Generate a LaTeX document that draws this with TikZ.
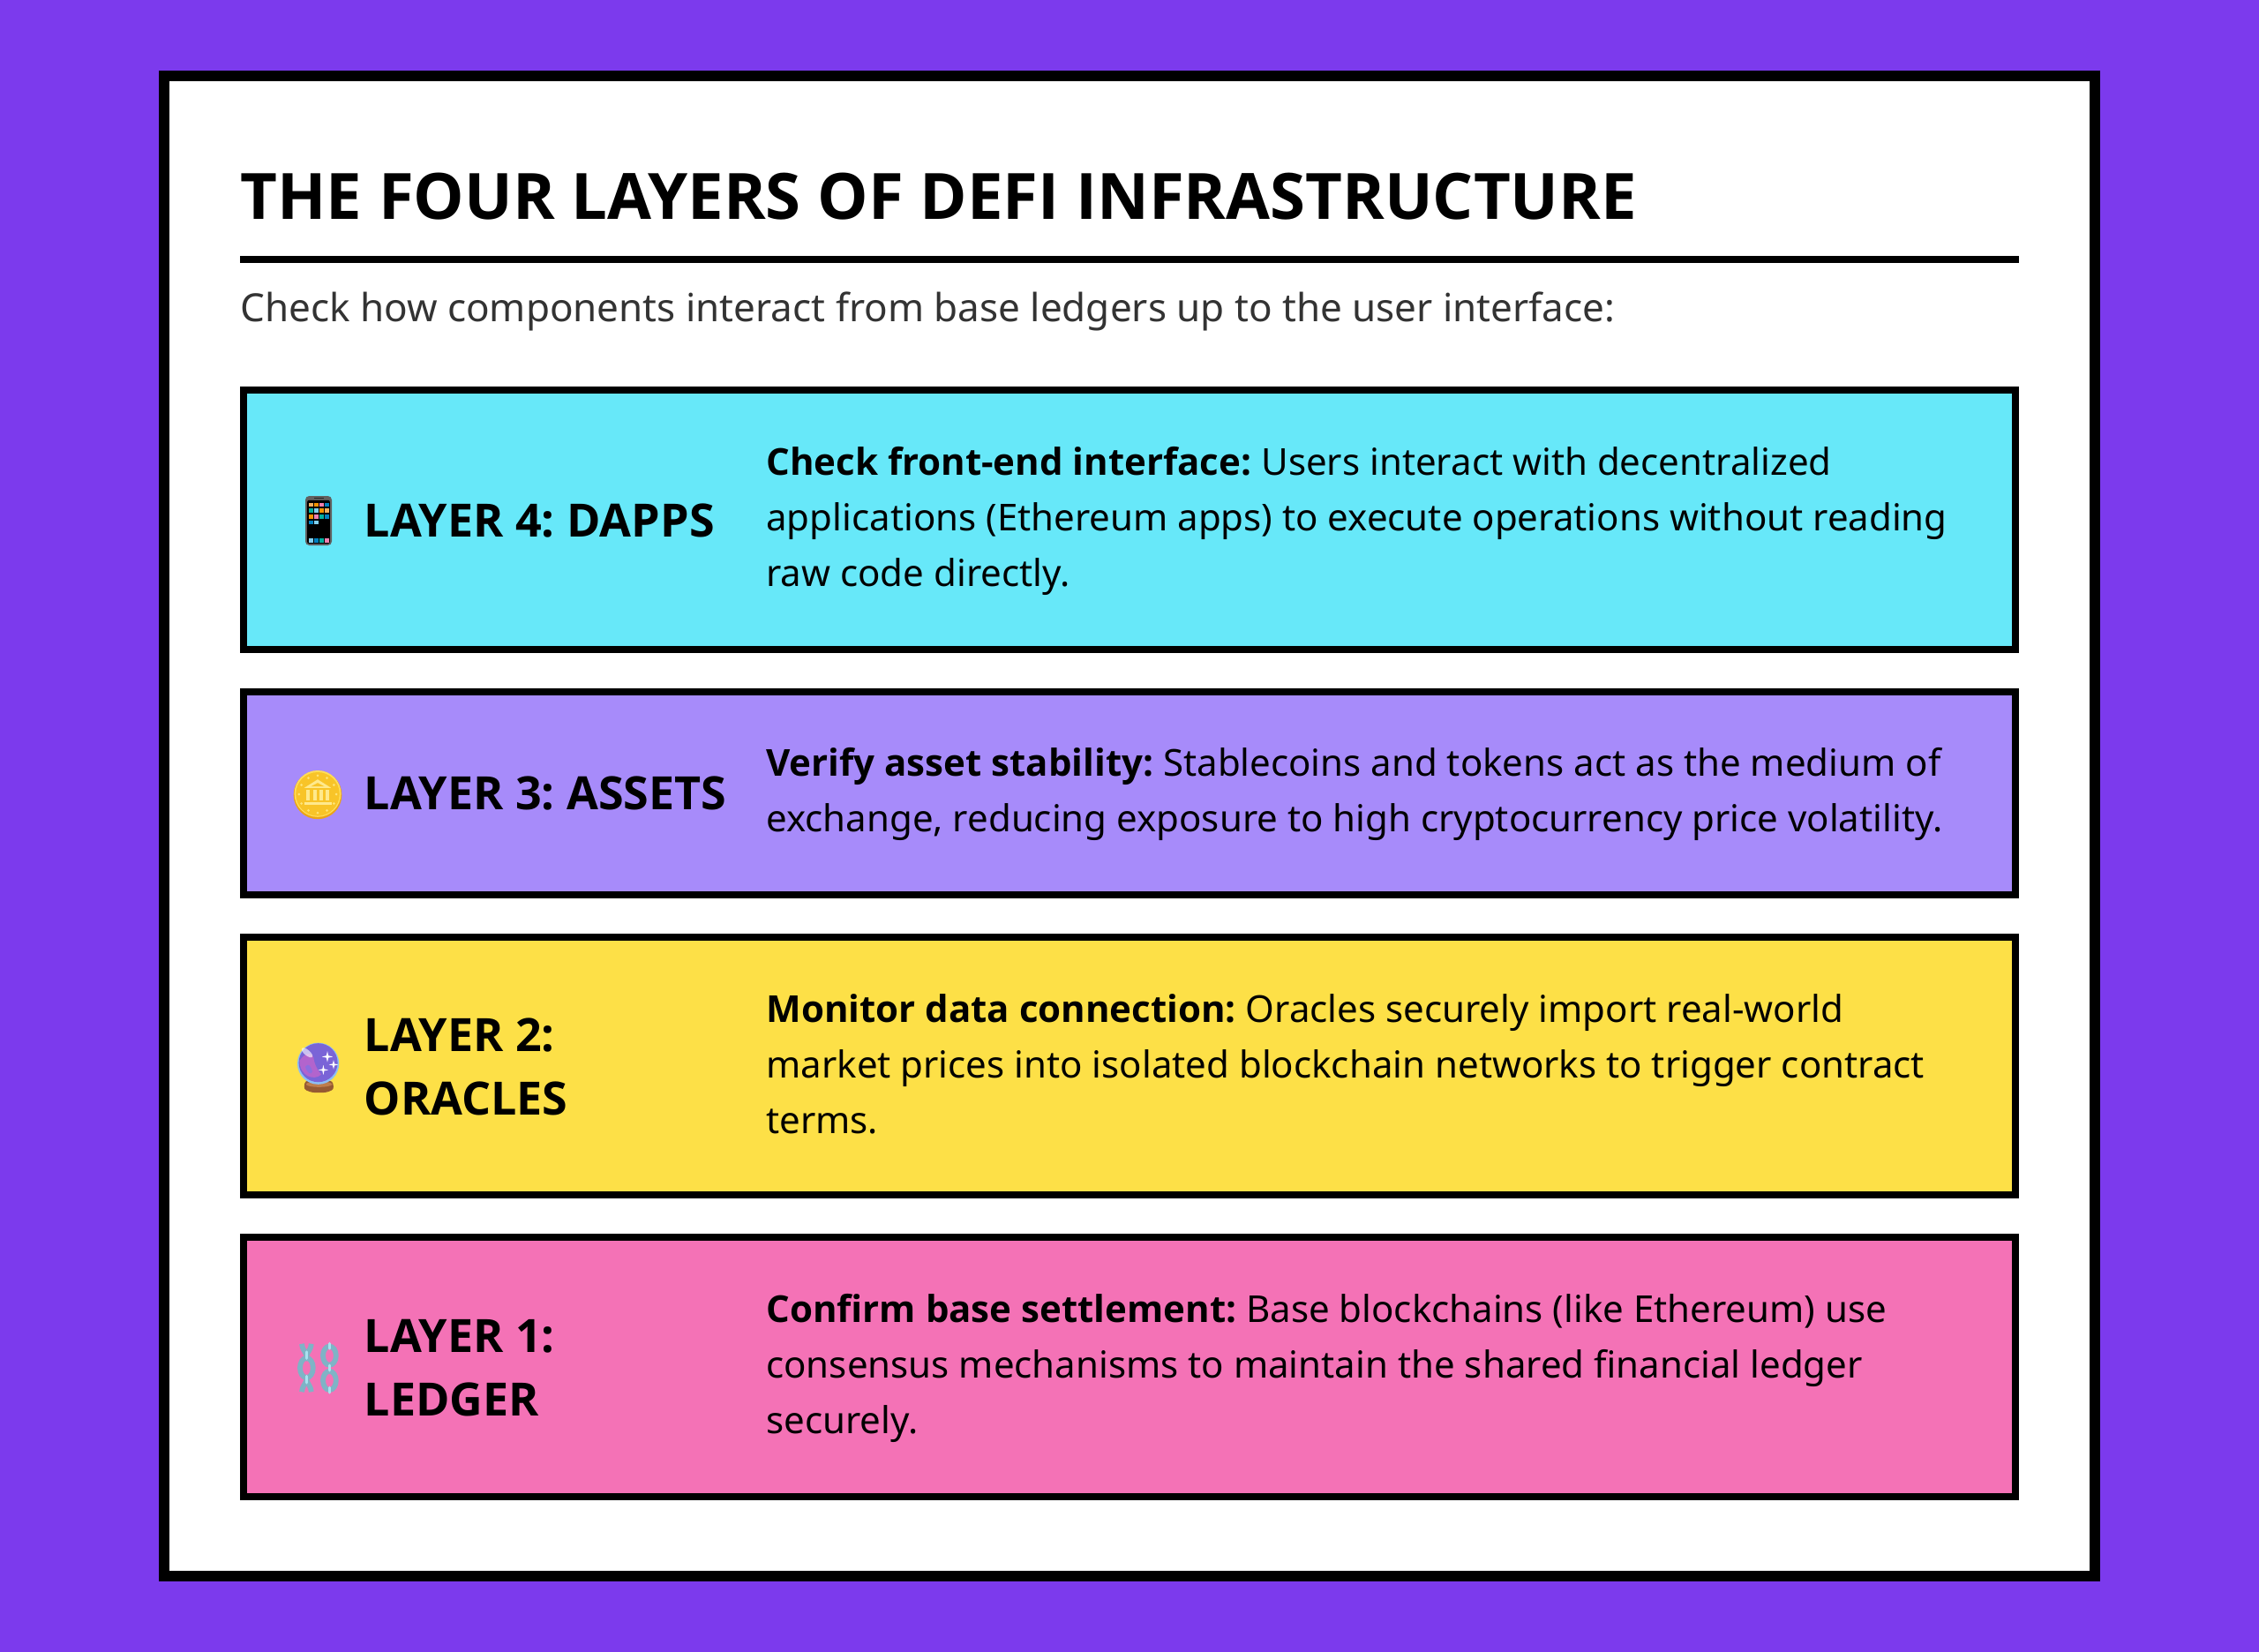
\documentclass[tikz,border=0pt]{standalone}
\usepackage{fontspec}
\IfFontExistsTF{Open Sans Bold}
  {\setmainfont{Noto Sans}[BoldFont={Open Sans Bold}]}
  {\setmainfont{Noto Sans}[BoldFont={Noto Sans},BoldFeatures={FakeBold=2.5}]}
\usetikzlibrary{positioning,calc}
\definecolor{pagepurple}{HTML}{7C3AED}
\definecolor{layercyan}{HTML}{67E8F9}
\definecolor{layerviolet}{HTML}{A78BFA}
\definecolor{layeryellow}{HTML}{FDE047}
\definecolor{layerpink}{HTML}{F472B6}
\definecolor{subgrey}{HTML}{333333}
\definecolor{chainmid}{HTML}{7FB3C6}
\definecolor{chainlight}{HTML}{A9E2F0}
\tikzstyle{layerbox} = [draw=black,line width=4pt,minimum width=1004pt,inner sep=0pt,outer sep=0pt]
\tikzstyle{layername} = [anchor=west,align=left,inner sep=0pt,font=\fontsize{26}{36}\selectfont\bfseries]
\tikzstyle{layertext} = [anchor=west,align=left,inner sep=0pt,font=\fontsize{21}{31.5}\selectfont]
\tikzset{
  sparkle/.pic={\fill [white] (0,-3.1pt) -- (0.6pt,-0.6pt) -- (3.1pt,0) -- (0.6pt,0.6pt) -- (0,3.1pt) -- (-0.6pt,0.6pt) -- (-3.1pt,0) -- (-0.6pt,-0.6pt) -- cycle;},
  phone icon/.pic={
    \fill [fill=black!62,rounded corners=2.2pt] (-7.5,-14) rectangle (7.5,14);
    \fill [fill=black,rounded corners=1pt] (-6.4,-11.6) rectangle (6.4,13);
    \fill [black!85] (-2.6,-13.2) rectangle (2.8,-12.4);
    \foreach \cx/\cy/\cc in {-4.33/-9/F0B060,-1.33/-9/F59300,1.67/-9/F080B0,4.67/-9/0080C0,
      -4.33/-5.67/00B0A0,-1.33/-5.67/80D0F0,1.67/-5.67/F59300,4.67/-5.67/F0B060,
      -4.33/-2.33/F59300,-1.33/-2.33/F080B0,1.67/-2.33/00B0A0,4.67/-2.33/0080C0,
      -4.33/1/0080C0,-1.33/1/80D0F0,
      -4.33/11.2/80D0F0,-1.33/11.2/0080C0,1.67/11.2/00B0A0,4.67/11.2/F080B0} {
      \definecolor{tilecolor}{HTML}{\cc}
      \fill [tilecolor] (\cx-1.2,\cy-1.2) rectangle (\cx+1.2,\cy+1.2);
    }
  },
  coin icon/.pic={
    \fill [fill={rgb,255:red,236;green,164;blue,22}] (0,0.4) circle [radius=13.7pt];
    \fill [fill={rgb,255:red,255;green,222;blue,90}] (0,-0.3) circle [radius=13.2pt];
    \fill [fill={rgb,255:red,248;green,196;blue,40}] (0,-0.1) circle [radius=12.4pt];
    \foreach \a in {0,30,...,330} {
      \fill [fill={rgb,255:red,255;green,228;blue,120}] (\a:10.6pt) circle [radius=0.75pt];
    }
    \fill [fill={rgb,255:red,255;green,233;blue,140}] (0,-8.4) -- (7.6,-3.6) -- (-7.6,-3.6) -- cycle;
    \fill [fill={rgb,255:red,248;green,196;blue,40}] (0,-6.4) -- (3.8,-4.4) -- (-3.8,-4.4) -- cycle;
    \foreach \px in {-5.4,-1.7,2,5.7} {
      \fill [fill={rgb,255:red,255;green,233;blue,140}] (\px-1,-2.6) rectangle (\px+1,3.6);
    }
    \fill [fill={rgb,255:red,255;green,233;blue,140}] (-7.6,4.4) rectangle (7.8,6.2);
  },
  crystal icon/.pic={
    \fill [fill={rgb,255:red,150;green,90;blue,50},rounded corners=1.5pt] (-7.2,7.4) -- (8.4,7.4) -- (9.2,12.2) -- (5,14) -- (-3.4,14) -- (-7.8,12.2) -- cycle;
    \fill [fill={rgb,255:red,190;green,125;blue,75}] (0.8,9.3) ellipse [x radius=7.4pt,y radius=1.6pt];
    \fill [fill={rgb,255:red,140;green,190;blue,245}] (0.3,-2.4) circle [radius=11.8pt];
    \fill [fill={rgb,255:red,122;green,100;blue,215}] (0.3,-2.9) circle [radius=11pt];
    \fill [fill={rgb,255:red,178;green,100;blue,205}] (-10.3,-4) .. controls (-7,-9) and (-3,-9) .. (-2.4,-6) .. controls (-2,-3) and (-1,0) .. (2,3.8) .. controls (-2,7.5) and (-10,5) .. (-10.3,-4);
    \fill [fill={rgb,255:red,140;green,110;blue,222}] (-7,-0.5) .. controls (-5,-3) and (-4,-1) .. (-3,2) .. controls (-3.5,4.5) and (-6,3) .. (-7,-0.5);
    \fill [fill=white,fill opacity=0.6,rotate around={-40:(-6,-8.6)}] (-6,-8.6) ellipse [x radius=3.8pt,y radius=1.6pt];
    \pic at (5.5,-6.3) {sparkle};
    \pic [scale=0.85] at (9,-1.8) {sparkle};
    \pic [scale=0.9] at (3.2,1.2) {sparkle};
  },
  chain icon/.pic={
    % left chain, split links at both ends
    \draw [chainmid,line width=2.9pt] (-6.3,0) ellipse [x radius=3.7pt,y radius=5.6pt];
    \draw [chainmid,line width=2.9pt] (-9,-13.6) .. controls (-8.7,-10.5) and (-7.4,-9.8) .. (-6.3,-7) .. controls (-5.2,-9.8) and (-3.9,-10.5) .. (-3.6,-13.6);
    \draw [chainmid,line width=2.9pt] (-9,13.6) .. controls (-8.7,10.5) and (-7.4,9.8) .. (-6.3,7) .. controls (-5.2,9.8) and (-3.9,10.5) .. (-3.6,13.6);
    \foreach \ly in {-7.2,6.6} {
      \draw [chainlight,line width=1.7pt,line cap=round] (-6.3,\ly-1.8) -- (-6.3,\ly+1.8);
    }
    % right chain
    \foreach \ly in {-6.9,7.2} {
      \draw [chainmid,line width=2.9pt] (6.7,\ly) ellipse [x radius=3.7pt,y radius=5.3pt];
    }
    \foreach \ly in {-12.4,0,12.6} {
      \draw [chainlight,line width=1.7pt,line cap=round] (6.7,\ly-1.4) -- (6.7,\ly+1.4);
    }
  }
}

\begin{document}
\frenchspacing
\begin{tikzpicture}[x=1pt,y=-1pt]
  \useasboundingbox (0,0) rectangle (1280,936);
  \fill [pagepurple] (0,0) rectangle (1280,936);
  \draw [line width=6pt,fill=white] (93,43) rectangle (1187,893);

  \node (heading) [anchor=base west,inner sep=0pt,font=\fontsize{36.2}{40}\selectfont\bfseries] at (136,124.5) {THE FOUR LAYERS OF DEFI INFRASTRUCTURE};
  \coordinate (ruleL) at (136,147);
  \coordinate (ruleR) at (1144,147);
  \draw [line width=4pt] (ruleL) -- (ruleR);
  \node (subhead) [anchor=base west,inner sep=0pt,text=subgrey,font=\fontsize{22}{24}\selectfont] at (136,182.1) {Check how components interact from base ledgers up to the user interface:};

  % layer boxes, top to bottom
  \node (layerD) [layerbox,fill=layercyan,minimum height=147pt] at (640,294.5) {};
  \node (layerC) [layerbox,fill=layerviolet,minimum height=115pt] at (640,449.5) {};
  \node (layerB) [layerbox,fill=layeryellow,minimum height=146pt] at (640,604) {};
  \node (layerA) [layerbox,fill=layerpink,minimum height=147pt] at (640,774.5) {};

  \pic at (180.5,295) {phone icon};
  \pic at (180,450) {coin icon};
  \pic at (180,605) {crystal icon};
  \pic at (180,775) {chain icon};

  \node (nameD) [layername] at (206.2,294.8) {LAYER 4: DAPPS};
  \node (nameC) [layername] at (206.2,449.7) {LAYER 3: ASSETS};
  \node (nameB) [layername] at (206.2,604.6) {LAYER 2:\\ORACLES};
  \node (nameA) [layername] at (206.2,774.9) {LAYER 1:\\LEDGER};

  \node (textD) [layertext] at (434,295) {\textbf{Check front-end interface:} Users interact with decentralized\\applications (Ethereum apps) to execute operations without reading\\raw code directly.};
  \node (textC) [layertext] at (434,450) {\textbf{Verify asset stability:} Stablecoins and tokens act as the medium of\\exchange, reducing exposure to high cryptocurrency price volatility.};
  \node (textB) [layertext] at (434,603.1) {\textbf{Monitor data connection:} Oracles securely import real-world\\market prices into isolated blockchain networks to trigger contract\\terms.};
  \node (textA) [layertext] at (434,775.2) {\textbf{Confirm base settlement:} Base blockchains (like Ethereum) use\\consensus mechanisms to maintain the shared financial ledger\\securely.};
\end{tikzpicture}
\end{document}
